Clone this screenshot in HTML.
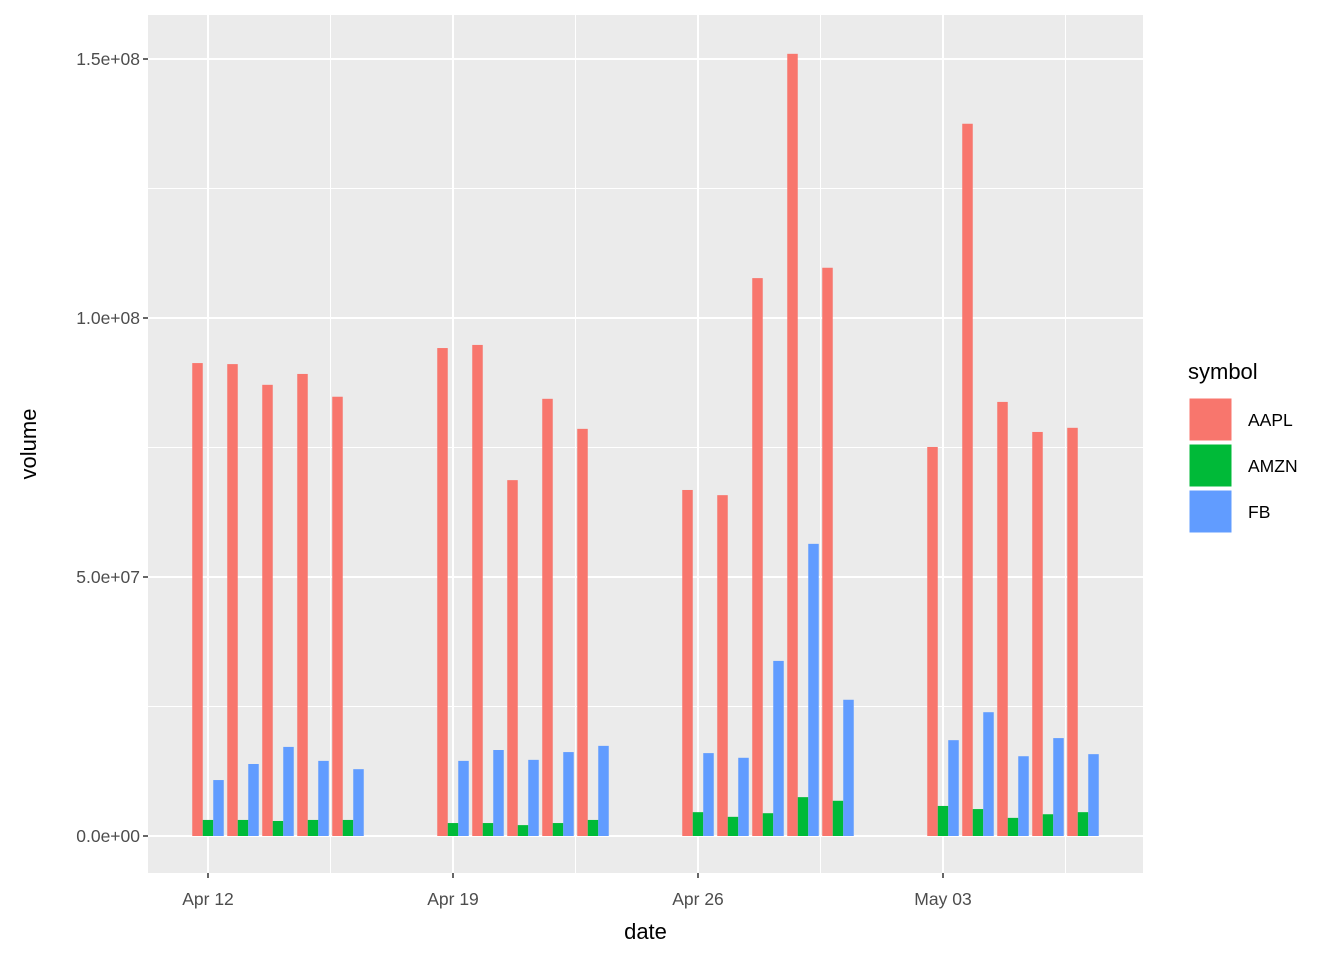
<!DOCTYPE html>
<html><head><meta charset="utf-8"><style>
body{margin:0;background:#fff;}
svg{display:block;font-family:"Liberation Sans",Arial,sans-serif;}
</style></head><body>
<svg id="chart" width="1344" height="960" viewBox="0 0 1344 960"></svg>
<script>
const dates = ["2021-04-12","2021-04-13","2021-04-14","2021-04-15","2021-04-16","2021-04-19","2021-04-20","2021-04-21","2021-04-22","2021-04-23","2021-04-26","2021-04-27","2021-04-28","2021-04-29","2021-04-30","2021-05-03","2021-05-04","2021-05-05","2021-05-06","2021-05-07"];
const symbols = ["AAPL","AMZN","FB"];
const aaplVolume = [9.13e7,9.11e7,8.71e7,8.92e7,8.48e7,9.42e7,9.48e7,6.87e7,8.44e7,7.86e7,6.68e7,6.58e7,1.077e8,1.51e8,1.097e8,7.51e7,1.375e8,8.38e7,7.80e7,7.88e7];
const amznVolume = [3.1e6,3.1e6,2.9e6,3.1e6,3.1e6,2.5e6,2.5e6,2.1e6,2.5e6,3.1e6,4.6e6,3.7e6,4.4e6,7.5e6,6.8e6,5.8e6,5.2e6,3.5e6,4.2e6,4.6e6];
const fbVolume = [1.08e7,1.39e7,1.72e7,1.45e7,1.29e7,1.45e7,1.66e7,1.47e7,1.62e7,1.74e7,1.60e7,1.51e7,3.38e7,5.64e7,2.63e7,1.85e7,2.39e7,1.54e7,1.89e7,1.58e7];
const yTicks = [0,5e7,1e8,1.5e8];
const yTickLabels = ["0.0e+00","5.0e+07","1.0e+08","1.5e+08"];
const xTickDates = ["2021-04-12","2021-04-19","2021-04-26","2021-05-03"];
const xTickLabels = ["Apr 12","Apr 19","Apr 26","May 03"];
const colors = ["#F8766D","#00BA38","#619CFF"];

const NS="http://www.w3.org/2000/svg";
const svg=document.getElementById('chart');
const P={l:148,r:1143,t:15,b:873};
const base=Date.UTC(2021,3,12);
function dayOf(s){const [y,m,d]=s.split('-').map(Number);return (Date.UTC(y,m-1,d)-base)/864e5;}
const xs=d=>208+35*d;
const ys=v=>836-v/5e7*259;
function el(tag,attrs,parent){const e=document.createElementNS(NS,tag);for(const k in attrs)e.setAttribute(k,attrs[k]);(parent||svg).appendChild(e);return e;}

const panel=el('rect',{x:P.l,y:P.t,width:P.r-P.l,height:P.b-P.t,fill:'#EBEBEB'});


// minor grid
for(let i=0;i<yTicks.length-1;i++){const v=(yTicks[i]+yTicks[i+1])/2;const g=el('line',{x1:P.l,x2:P.r,y1:ys(v),y2:ys(v),stroke:'#fff','stroke-width':1});}
{const v=yTicks[0]-2.5e7;if(ys(v)<P.b){}}
for(let i=0;i<xTickDates.length;i++){const d=dayOf(xTickDates[i])+3.5;const g=el('line',{x1:xs(d),x2:xs(d),y1:P.t,y2:P.b,stroke:'#fff','stroke-width':1});}
yTicks.forEach(v=>{const g=el('line',{x1:P.l,x2:P.r,y1:ys(v),y2:ys(v),stroke:'#fff','stroke-width':2});});
xTickDates.forEach(s=>{const x=xs(dayOf(s));const g=el('line',{x1:x,x2:x,y1:P.t,y2:P.b,stroke:'#fff','stroke-width':2});});

const series=[aaplVolume,amznVolume,fbVolume];
const bw=35*0.9/3;
dates.forEach((s,i)=>{const d=dayOf(s);series.forEach((arr,k)=>{const x0=xs(d)-35*0.45+k*bw;const r=el('rect',{x:x0,y:ys(arr[i]),width:bw,height:ys(0)-ys(arr[i]),fill:colors[k]});});});

yTicks.forEach((v,i)=>{const y=ys(v);const t=el('line',{x1:P.l-5,x2:P.l,y1:y,y2:y,stroke:'#333','stroke-width':1.5});
const tx=el('text',{x:P.l-8,y:y+6,'text-anchor':'end','font-size':17.5,fill:'#4D4D4D'});tx.textContent=yTickLabels[i];});
xTickDates.forEach((s,i)=>{const x=xs(dayOf(s));const t=el('line',{x1:x,x2:x,y1:P.b,y2:P.b+5,stroke:'#333','stroke-width':1.5});
const tx=el('text',{x:x,y:P.b+32,'text-anchor':'middle','font-size':17.5,fill:'#4D4D4D'});tx.textContent=xTickLabels[i];});

const xt=el('text',{x:(P.l+P.r)/2,y:939,'text-anchor':'middle','font-size':22,fill:'#000'});xt.textContent='date';
const yt=el('text',{x:0,y:0,'text-anchor':'middle','font-size':22,fill:'#000',transform:'translate(36,444) rotate(-90)'});yt.textContent='volume';

const lt=el('text',{x:1188,y:379,'font-size':22,fill:'#000'});lt.textContent='symbol';
symbols.forEach((s,k)=>{const y=398+k*46;const r=el('rect',{x:1189,y:y,width:43,height:43,fill:colors[k],stroke:'#fff','stroke-width':1});
const t=el('text',{x:1248,y:y+28,'font-size':17.5,fill:'#000'});t.textContent=s;});
</script>
</body></html>
